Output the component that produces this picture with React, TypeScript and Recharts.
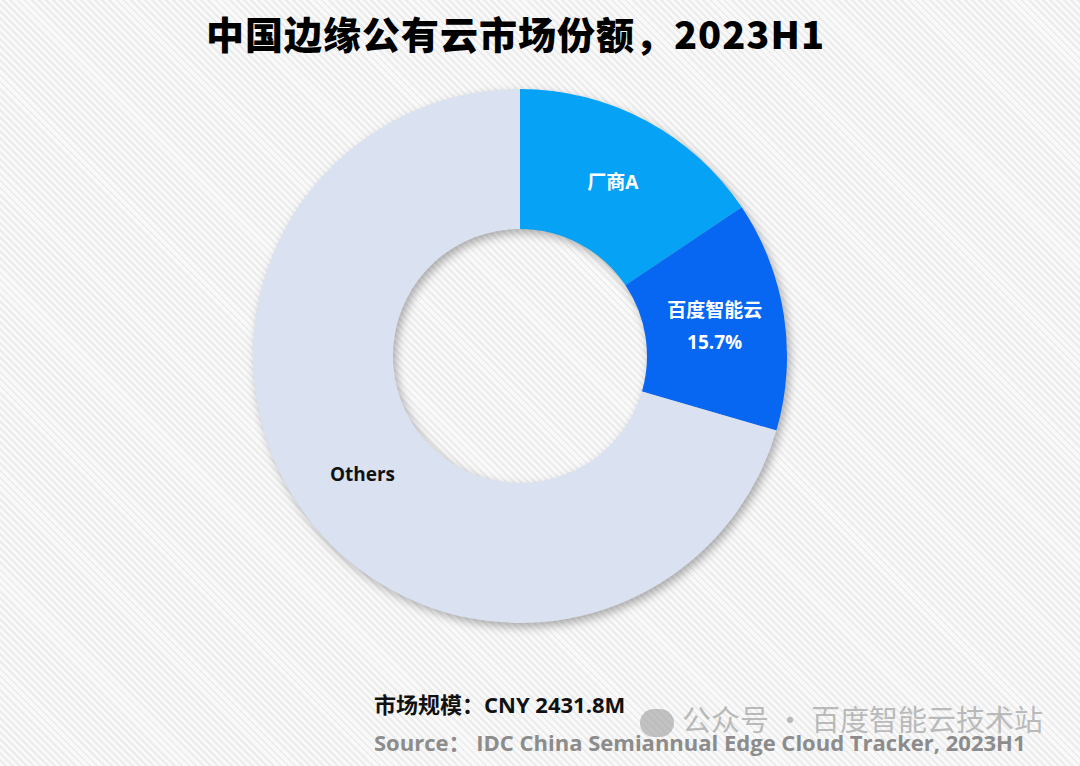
import React from "react";
import { PieChart, Pie, Cell } from "recharts";

const vendors = ["厂商A", "百度智能云", "Others"];
const shares = [15.6, 13.9, 70.5];
const labelLines = [["厂商A"], ["百度智能云", "15.7%"], ["Others"]];
const colors = ["#05A2F5", "#0767F3", "#DAE1F1"];
const labelColors = ["#ffffff", "#ffffff", "#111111"];

const data = vendors.map((name, i) => ({ name, value: shares[i] }));

const RAD = Math.PI / 180;

const renderLabel = (props: any) => {
  const { cx, cy, midAngle, innerRadius, outerRadius, index } = props;
  const r = (innerRadius + outerRadius) / 2;
  const x = cx + r * Math.cos(-midAngle * RAD);
  const y = cy + r * Math.sin(-midAngle * RAD);
  const lines = labelLines[index];
  const gap = 32;
  const y0 = y - ((lines.length - 1) * gap) / 2;
  return (
    <text
      x={x}
      y={y0}
      textAnchor="middle"
      dominantBaseline="central"
      fill={labelColors[index]}
      fontSize={19}
      fontWeight="bold"
      fontFamily="'Open Sans', 'Noto Sans CJK SC', sans-serif"
    >
      {lines.map((t, k) => (
        <tspan key={k} x={x} dy={k === 0 ? 0 : gap}>
          {t}
        </tspan>
      ))}
    </text>
  );
};

const App = () => {
  return (
    <div
      style={{
        position: "absolute",
        top: 0,
        left: 0,
        width: 1080,
        height: 766,
        overflow: "hidden",
        background:
          "repeating-linear-gradient(45deg, #f9f9f9 0px, #f9f9f9 3px, #ececec 3px, #ececec 5px)",
        fontFamily: "'Open Sans', 'Noto Sans CJK SC', sans-serif",
      }}
    >
      <style>{`.pie-shadow { filter: blur(3px); }`}</style>
      <div
        style={{
          position: "absolute",
          top: 6,
          left: 0,
          width: 1031,
          textAlign: "center",
          fontSize: 38,
          letterSpacing: 1,
          fontWeight: 900,
          color: "#000",
          fontFamily: "'Noto Sans CJK SC', sans-serif",
          lineHeight: "54px",
        }}
      >
        中国边缘公有云市场份额，2023H1
      </div>
      <PieChart
        width={1080}
        height={766}
        margin={{ top: 0, right: 0, bottom: 0, left: 0 }}
        style={{ position: "absolute", top: 0, left: 0 }}
      >
        <Pie
          data={data}
          dataKey="value"
          cx={523}
          cy={360}
          innerRadius={127}
          outerRadius={267}
          startAngle={90}
          endAngle={-270}
          stroke="none"
          fill="rgba(0,0,0,0.3)"
          className="pie-shadow"
          isAnimationActive={false}
        />
        <Pie
          data={data}
          dataKey="value"
          cx={520}
          cy={356}
          innerRadius={127}
          outerRadius={267}
          startAngle={90}
          endAngle={-270}
          stroke="none"
          label={renderLabel}
          labelLine={false}
          isAnimationActive={false}
        >
          {data.map((d, i) => (
            <Cell key={d.name} fill={colors[i]} />
          ))}
        </Pie>
      </PieChart>
      <div
        style={{
          position: "absolute",
          left: 374,
          top: 689,
          fontSize: 22,
          fontWeight: "bold",
          color: "#111",
          lineHeight: "30px",
          whiteSpace: "nowrap",
        }}
      >
        市场规模：CNY 2431.8M
      </div>
      <div
        style={{
          position: "absolute",
          left: 640,
          top: 700,
          fontSize: 29,
          color: "rgba(160,160,160,0.7)",
          lineHeight: "36px",
          whiteSpace: "nowrap",
          fontFamily: "'Noto Sans CJK SC', sans-serif",
        }}
      >
        <span
          style={{
            display: "inline-block",
            width: 34,
            height: 28,
            borderRadius: 14,
            background: "rgba(150,150,150,0.55)",
            verticalAlign: "middle",
            marginRight: 8,
          }}
        />
        公众号 · 百度智能云技术站
      </div>
      <div
        style={{
          position: "absolute",
          left: 374,
          top: 727,
          fontSize: 22,
          fontWeight: "bold",
          color: "#8c8c8c",
          lineHeight: "30px",
          whiteSpace: "nowrap",
        }}
      >
        Source： IDC China Semiannual Edge Cloud Tracker, 2023H1
      </div>
    </div>
  );
};

export default App;
